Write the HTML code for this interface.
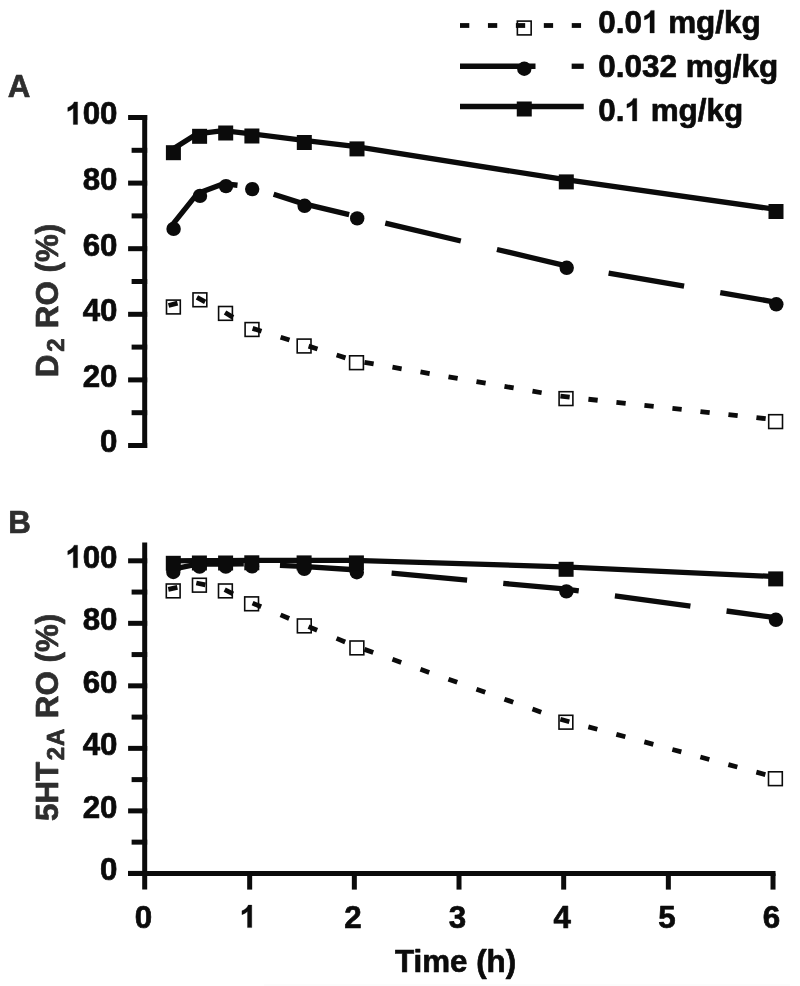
<!DOCTYPE html>
<html><head><meta charset="utf-8"><title>chart</title>
<style>
html,body{margin:0;padding:0;background:#fff;}
svg{display:block;filter:grayscale(1);}
text{font-family:"Liberation Sans",sans-serif;font-weight:bold;stroke-width:0.7px;stroke-linejoin:round;}
</style></head><body>
<svg width="800" height="986" viewBox="0 0 800 986">
<rect width="800" height="986" fill="#fff"/>
<rect x="264" y="984" width="526" height="2" fill="#fcfcfc"/>
<line x1="144.70" y1="115.00" x2="144.70" y2="448.00" stroke="#0b0b0b" stroke-width="5.0" stroke-linecap="butt"/>
<line x1="128.10" y1="445.50" x2="147.20" y2="445.50" stroke="#0b0b0b" stroke-width="5.0" stroke-linecap="butt"/>
<text transform="translate(100.09,452.40) scale(1,1.0)" text-anchor="start" font-size="31.3" fill="#0b0b0b" stroke="#0b0b0b">0</text>
<line x1="131.60" y1="412.70" x2="147.20" y2="412.70" stroke="#0b0b0b" stroke-width="5.0" stroke-linecap="butt"/>
<line x1="128.10" y1="379.90" x2="147.20" y2="379.90" stroke="#0b0b0b" stroke-width="5.0" stroke-linecap="butt"/>
<text transform="translate(82.68,386.80) scale(1,1.0)" text-anchor="start" font-size="31.3" fill="#0b0b0b" stroke="#0b0b0b">20</text>
<line x1="131.60" y1="347.10" x2="147.20" y2="347.10" stroke="#0b0b0b" stroke-width="5.0" stroke-linecap="butt"/>
<line x1="128.10" y1="314.30" x2="147.20" y2="314.30" stroke="#0b0b0b" stroke-width="5.0" stroke-linecap="butt"/>
<text transform="translate(82.68,321.20) scale(1,1.0)" text-anchor="start" font-size="31.3" fill="#0b0b0b" stroke="#0b0b0b">40</text>
<line x1="131.60" y1="281.50" x2="147.20" y2="281.50" stroke="#0b0b0b" stroke-width="5.0" stroke-linecap="butt"/>
<line x1="128.10" y1="248.70" x2="147.20" y2="248.70" stroke="#0b0b0b" stroke-width="5.0" stroke-linecap="butt"/>
<text transform="translate(82.68,255.60) scale(1,1.0)" text-anchor="start" font-size="31.3" fill="#0b0b0b" stroke="#0b0b0b">60</text>
<line x1="131.60" y1="215.90" x2="147.20" y2="215.90" stroke="#0b0b0b" stroke-width="5.0" stroke-linecap="butt"/>
<line x1="128.10" y1="183.10" x2="147.20" y2="183.10" stroke="#0b0b0b" stroke-width="5.0" stroke-linecap="butt"/>
<text transform="translate(82.68,190.00) scale(1,1.0)" text-anchor="start" font-size="31.3" fill="#0b0b0b" stroke="#0b0b0b">80</text>
<line x1="131.60" y1="150.30" x2="147.20" y2="150.30" stroke="#0b0b0b" stroke-width="5.0" stroke-linecap="butt"/>
<line x1="128.10" y1="117.50" x2="147.20" y2="117.50" stroke="#0b0b0b" stroke-width="5.0" stroke-linecap="butt"/>
<path transform="translate(65.28,124.40) scale(0.01528,-0.01528)" d="M806 0H525V1059Q371 915 162 846V1101Q272 1137 401 1237.5Q530 1338 578 1472H806Z" fill="#0b0b0b" stroke="#0b0b0b" stroke-width="19.6" stroke-linejoin="round"/>
<text transform="translate(82.68,124.40) scale(1,1.0)" text-anchor="start" font-size="31.3" fill="#0b0b0b" stroke="#0b0b0b">00</text>
<line x1="144.70" y1="542.60" x2="144.70" y2="889.60" stroke="#0b0b0b" stroke-width="5.0" stroke-linecap="butt"/>
<line x1="128.10" y1="873.40" x2="147.20" y2="873.40" stroke="#0b0b0b" stroke-width="5.0" stroke-linecap="butt"/>
<text transform="translate(100.09,880.30) scale(1,1.0)" text-anchor="start" font-size="31.3" fill="#0b0b0b" stroke="#0b0b0b">0</text>
<line x1="131.60" y1="842.14" x2="147.20" y2="842.14" stroke="#0b0b0b" stroke-width="5.0" stroke-linecap="butt"/>
<line x1="128.10" y1="810.88" x2="147.20" y2="810.88" stroke="#0b0b0b" stroke-width="5.0" stroke-linecap="butt"/>
<text transform="translate(82.68,817.78) scale(1,1.0)" text-anchor="start" font-size="31.3" fill="#0b0b0b" stroke="#0b0b0b">20</text>
<line x1="131.60" y1="779.62" x2="147.20" y2="779.62" stroke="#0b0b0b" stroke-width="5.0" stroke-linecap="butt"/>
<line x1="128.10" y1="748.36" x2="147.20" y2="748.36" stroke="#0b0b0b" stroke-width="5.0" stroke-linecap="butt"/>
<text transform="translate(82.68,755.26) scale(1,1.0)" text-anchor="start" font-size="31.3" fill="#0b0b0b" stroke="#0b0b0b">40</text>
<line x1="131.60" y1="717.10" x2="147.20" y2="717.10" stroke="#0b0b0b" stroke-width="5.0" stroke-linecap="butt"/>
<line x1="128.10" y1="685.84" x2="147.20" y2="685.84" stroke="#0b0b0b" stroke-width="5.0" stroke-linecap="butt"/>
<text transform="translate(82.68,692.74) scale(1,1.0)" text-anchor="start" font-size="31.3" fill="#0b0b0b" stroke="#0b0b0b">60</text>
<line x1="131.60" y1="654.58" x2="147.20" y2="654.58" stroke="#0b0b0b" stroke-width="5.0" stroke-linecap="butt"/>
<line x1="128.10" y1="623.32" x2="147.20" y2="623.32" stroke="#0b0b0b" stroke-width="5.0" stroke-linecap="butt"/>
<text transform="translate(82.68,630.22) scale(1,1.0)" text-anchor="start" font-size="31.3" fill="#0b0b0b" stroke="#0b0b0b">80</text>
<line x1="131.60" y1="592.06" x2="147.20" y2="592.06" stroke="#0b0b0b" stroke-width="5.0" stroke-linecap="butt"/>
<line x1="128.10" y1="560.80" x2="147.20" y2="560.80" stroke="#0b0b0b" stroke-width="5.0" stroke-linecap="butt"/>
<path transform="translate(65.28,567.70) scale(0.01528,-0.01528)" d="M806 0H525V1059Q371 915 162 846V1101Q272 1137 401 1237.5Q530 1338 578 1472H806Z" fill="#0b0b0b" stroke="#0b0b0b" stroke-width="19.6" stroke-linejoin="round"/>
<text transform="translate(82.68,567.70) scale(1,1.0)" text-anchor="start" font-size="31.3" fill="#0b0b0b" stroke="#0b0b0b">00</text>
<line x1="128.10" y1="873.40" x2="775.52" y2="873.40" stroke="#0b0b0b" stroke-width="5.0" stroke-linecap="butt"/>
<text transform="translate(134.80,927.60) scale(1,1.0)" text-anchor="start" font-size="31.3" fill="#0b0b0b" stroke="#0b0b0b">0</text>
<line x1="249.67" y1="873.40" x2="249.67" y2="889.60" stroke="#0b0b0b" stroke-width="5.0" stroke-linecap="butt"/>
<path transform="translate(239.47,927.60) scale(0.01528,-0.01528)" d="M806 0H525V1059Q371 915 162 846V1101Q272 1137 401 1237.5Q530 1338 578 1472H806Z" fill="#0b0b0b" stroke="#0b0b0b" stroke-width="19.6" stroke-linejoin="round"/>
<line x1="354.34" y1="873.40" x2="354.34" y2="889.60" stroke="#0b0b0b" stroke-width="5.0" stroke-linecap="butt"/>
<text transform="translate(344.14,927.60) scale(1,1.0)" text-anchor="start" font-size="31.3" fill="#0b0b0b" stroke="#0b0b0b">2</text>
<line x1="459.01" y1="873.40" x2="459.01" y2="889.60" stroke="#0b0b0b" stroke-width="5.0" stroke-linecap="butt"/>
<text transform="translate(448.81,927.60) scale(1,1.0)" text-anchor="start" font-size="31.3" fill="#0b0b0b" stroke="#0b0b0b">3</text>
<line x1="563.68" y1="873.40" x2="563.68" y2="889.60" stroke="#0b0b0b" stroke-width="5.0" stroke-linecap="butt"/>
<text transform="translate(553.48,927.60) scale(1,1.0)" text-anchor="start" font-size="31.3" fill="#0b0b0b" stroke="#0b0b0b">4</text>
<line x1="668.35" y1="873.40" x2="668.35" y2="889.60" stroke="#0b0b0b" stroke-width="5.0" stroke-linecap="butt"/>
<text transform="translate(658.15,927.60) scale(1,1.0)" text-anchor="start" font-size="31.3" fill="#0b0b0b" stroke="#0b0b0b">5</text>
<line x1="773.02" y1="873.40" x2="773.02" y2="889.60" stroke="#0b0b0b" stroke-width="5.0" stroke-linecap="butt"/>
<text transform="translate(762.82,927.60) scale(1,1.0)" text-anchor="start" font-size="31.3" fill="#0b0b0b" stroke="#0b0b0b">6</text>
<text transform="translate(395.00,972.00) scale(1,1.0)" text-anchor="start" font-size="31.3" fill="#0b0b0b" stroke="#0b0b0b">Time (h)</text>
<text transform="translate(7.70,96.50) scale(1,1.0)" text-anchor="start" font-size="31.3" fill="#2e2e2e" stroke="#2e2e2e">A</text>
<text transform="translate(8.20,532.70) scale(1,1.0)" text-anchor="start" font-size="31.3" fill="#2e2e2e" stroke="#2e2e2e">B</text>
<text transform="translate(57.90,377.30) rotate(-90) scale(1,1.0)" font-size="31.3" fill="#2e2e2e" stroke="#2e2e2e">D<tspan font-size="24" dy="6.5" dx="3">2</tspan><tspan dy="-6.5" dx="1.5"> RO (%)</tspan></text>
<text transform="translate(57.90,821.00) rotate(-90) scale(1,1.0)" font-size="31.3" fill="#2e2e2e" stroke="#2e2e2e">5HT<tspan font-size="24" dy="6.5" dx="1.7">2</tspan><tspan font-size="24" dx="0.8">A</tspan><tspan dy="-6.5" dx="1.8"> RO (%)</tspan></text>
<rect x="166.50" y="300.10" width="13.8" height="13.8" fill="#fff" stroke="#0b0b0b" stroke-width="1.6"/>
<rect x="193.00" y="292.90" width="13.8" height="13.8" fill="#fff" stroke="#0b0b0b" stroke-width="1.6"/>
<rect x="218.60" y="306.50" width="13.8" height="13.8" fill="#fff" stroke="#0b0b0b" stroke-width="1.6"/>
<rect x="245.10" y="322.60" width="13.8" height="13.8" fill="#fff" stroke="#0b0b0b" stroke-width="1.6"/>
<rect x="297.20" y="339.10" width="13.8" height="13.8" fill="#fff" stroke="#0b0b0b" stroke-width="1.6"/>
<rect x="349.60" y="355.80" width="13.8" height="13.8" fill="#fff" stroke="#0b0b0b" stroke-width="1.6"/>
<rect x="559.10" y="391.70" width="13.8" height="13.8" fill="#fff" stroke="#0b0b0b" stroke-width="1.6"/>
<rect x="768.70" y="414.70" width="13.8" height="13.8" fill="#fff" stroke="#0b0b0b" stroke-width="1.6"/>
<polyline points="168.56,305.54 177.54,303.10" fill="none" stroke="#0b0b0b" stroke-width="4.8" stroke-linejoin="miter"/>
<polyline points="196.94,297.46 205.16,301.82" fill="none" stroke="#0b0b0b" stroke-width="4.8" stroke-linejoin="miter"/>
<polyline points="225.08,312.56 233.02,317.39" fill="none" stroke="#0b0b0b" stroke-width="4.8" stroke-linejoin="miter"/>
<polyline points="252.62,328.39 261.48,331.20" fill="none" stroke="#0b0b0b" stroke-width="4.8" stroke-linejoin="miter"/>
<polyline points="280.62,337.25 289.48,340.06" fill="none" stroke="#0b0b0b" stroke-width="4.8" stroke-linejoin="miter"/>
<polyline points="308.62,346.14 317.48,348.96" fill="none" stroke="#0b0b0b" stroke-width="4.8" stroke-linejoin="miter"/>
<polyline points="336.62,355.06 345.48,357.88" fill="none" stroke="#0b0b0b" stroke-width="4.8" stroke-linejoin="miter"/>
<polyline points="364.47,362.39 373.63,363.96" fill="none" stroke="#0b0b0b" stroke-width="4.8" stroke-linejoin="miter"/>
<polyline points="392.47,367.19 401.63,368.76" fill="none" stroke="#0b0b0b" stroke-width="4.8" stroke-linejoin="miter"/>
<polyline points="420.47,371.99 429.63,373.56" fill="none" stroke="#0b0b0b" stroke-width="4.8" stroke-linejoin="miter"/>
<polyline points="448.47,376.79 457.63,378.36" fill="none" stroke="#0b0b0b" stroke-width="4.8" stroke-linejoin="miter"/>
<polyline points="476.47,381.59 485.63,383.16" fill="none" stroke="#0b0b0b" stroke-width="4.8" stroke-linejoin="miter"/>
<polyline points="504.47,386.38 513.63,387.95" fill="none" stroke="#0b0b0b" stroke-width="4.8" stroke-linejoin="miter"/>
<polyline points="532.47,391.18 541.63,392.75" fill="none" stroke="#0b0b0b" stroke-width="4.8" stroke-linejoin="miter"/>
<polyline points="560.43,396.16 569.67,397.18" fill="none" stroke="#0b0b0b" stroke-width="4.8" stroke-linejoin="miter"/>
<polyline points="588.43,399.24 597.67,400.25" fill="none" stroke="#0b0b0b" stroke-width="4.8" stroke-linejoin="miter"/>
<polyline points="616.43,402.31 625.67,403.32" fill="none" stroke="#0b0b0b" stroke-width="4.8" stroke-linejoin="miter"/>
<polyline points="644.43,405.38 653.67,406.39" fill="none" stroke="#0b0b0b" stroke-width="4.8" stroke-linejoin="miter"/>
<polyline points="672.43,408.45 681.67,409.47" fill="none" stroke="#0b0b0b" stroke-width="4.8" stroke-linejoin="miter"/>
<polyline points="700.43,411.53 709.67,412.54" fill="none" stroke="#0b0b0b" stroke-width="4.8" stroke-linejoin="miter"/>
<polyline points="728.43,414.60 737.67,415.61" fill="none" stroke="#0b0b0b" stroke-width="4.8" stroke-linejoin="miter"/>
<polyline points="756.43,417.67 765.67,418.68" fill="none" stroke="#0b0b0b" stroke-width="4.8" stroke-linejoin="miter"/>
<polyline points="169.10,228.95 197.50,193.45 223.50,183.65 237.50,185.25" fill="none" stroke="#0b0b0b" stroke-width="5.3" stroke-linejoin="miter"/>
<polyline points="273.65,194.28 302.10,203.35 349.15,214.62" fill="none" stroke="#0b0b0b" stroke-width="5.3" stroke-linejoin="miter"/>
<polyline points="385.30,223.17 460.80,240.97" fill="none" stroke="#0b0b0b" stroke-width="5.3" stroke-linejoin="miter"/>
<polyline points="496.95,249.49 564.20,265.35 572.45,266.79" fill="none" stroke="#0b0b0b" stroke-width="5.3" stroke-linejoin="miter"/>
<polyline points="608.60,273.08 684.10,286.23" fill="none" stroke="#0b0b0b" stroke-width="5.3" stroke-linejoin="miter"/>
<polyline points="720.25,292.52 776.30,302.29" fill="none" stroke="#0b0b0b" stroke-width="5.3" stroke-linejoin="miter"/>
<circle cx="173.60" cy="228.90" r="7.2" fill="#0b0b0b"/>
<circle cx="200.00" cy="195.90" r="7.2" fill="#0b0b0b"/>
<circle cx="226.00" cy="186.10" r="7.2" fill="#0b0b0b"/>
<circle cx="252.20" cy="189.10" r="7.2" fill="#0b0b0b"/>
<circle cx="304.60" cy="205.80" r="7.2" fill="#0b0b0b"/>
<circle cx="357.20" cy="218.40" r="7.2" fill="#0b0b0b"/>
<circle cx="566.70" cy="267.80" r="7.2" fill="#0b0b0b"/>
<circle cx="776.30" cy="304.30" r="7.2" fill="#0b0b0b"/>
<polyline points="170.90,150.25 197.10,133.85 223.20,130.55 249.40,133.55 301.80,140.05 354.50,146.45 563.80,179.45 773.50,209.05" fill="none" stroke="#0b0b0b" stroke-width="5.3" stroke-linejoin="miter" stroke-linecap="square"/>
<rect x="165.90" y="145.20" width="15.0" height="15.0" fill="#0b0b0b"/>
<rect x="192.10" y="128.80" width="15.0" height="15.0" fill="#0b0b0b"/>
<rect x="218.20" y="125.50" width="15.0" height="15.0" fill="#0b0b0b"/>
<rect x="244.40" y="128.50" width="15.0" height="15.0" fill="#0b0b0b"/>
<rect x="296.80" y="135.00" width="15.0" height="15.0" fill="#0b0b0b"/>
<rect x="349.50" y="141.40" width="15.0" height="15.0" fill="#0b0b0b"/>
<rect x="558.80" y="174.40" width="15.0" height="15.0" fill="#0b0b0b"/>
<rect x="768.50" y="204.00" width="15.0" height="15.0" fill="#0b0b0b"/>
<rect x="166.30" y="584.00" width="13.8" height="13.8" fill="#fff" stroke="#0b0b0b" stroke-width="1.6"/>
<rect x="192.50" y="578.30" width="13.8" height="13.8" fill="#fff" stroke="#0b0b0b" stroke-width="1.6"/>
<rect x="218.50" y="584.00" width="13.8" height="13.8" fill="#fff" stroke="#0b0b0b" stroke-width="1.6"/>
<rect x="244.70" y="596.90" width="13.8" height="13.8" fill="#fff" stroke="#0b0b0b" stroke-width="1.6"/>
<rect x="297.40" y="619.00" width="13.8" height="13.8" fill="#fff" stroke="#0b0b0b" stroke-width="1.6"/>
<rect x="350.00" y="641.00" width="13.8" height="13.8" fill="#fff" stroke="#0b0b0b" stroke-width="1.6"/>
<rect x="559.00" y="715.30" width="13.8" height="13.8" fill="#fff" stroke="#0b0b0b" stroke-width="1.6"/>
<rect x="768.50" y="771.80" width="13.8" height="13.8" fill="#fff" stroke="#0b0b0b" stroke-width="1.6"/>
<polyline points="168.31,589.32 177.39,587.34" fill="none" stroke="#0b0b0b" stroke-width="4.8" stroke-linejoin="miter"/>
<polyline points="196.31,582.97 205.39,584.96" fill="none" stroke="#0b0b0b" stroke-width="4.8" stroke-linejoin="miter"/>
<polyline points="224.68,589.68 233.02,593.78" fill="none" stroke="#0b0b0b" stroke-width="4.8" stroke-linejoin="miter"/>
<polyline points="252.56,603.15 261.14,606.75" fill="none" stroke="#0b0b0b" stroke-width="4.8" stroke-linejoin="miter"/>
<polyline points="280.56,614.89 289.14,618.49" fill="none" stroke="#0b0b0b" stroke-width="4.8" stroke-linejoin="miter"/>
<polyline points="308.56,626.63 317.14,630.22" fill="none" stroke="#0b0b0b" stroke-width="4.8" stroke-linejoin="miter"/>
<polyline points="336.56,638.34 345.14,641.93" fill="none" stroke="#0b0b0b" stroke-width="4.8" stroke-linejoin="miter"/>
<polyline points="364.47,649.38 373.23,652.49" fill="none" stroke="#0b0b0b" stroke-width="4.8" stroke-linejoin="miter"/>
<polyline points="392.47,659.33 401.23,662.45" fill="none" stroke="#0b0b0b" stroke-width="4.8" stroke-linejoin="miter"/>
<polyline points="420.47,669.29 429.23,672.40" fill="none" stroke="#0b0b0b" stroke-width="4.8" stroke-linejoin="miter"/>
<polyline points="448.47,679.24 457.23,682.36" fill="none" stroke="#0b0b0b" stroke-width="4.8" stroke-linejoin="miter"/>
<polyline points="476.47,689.20 485.23,692.31" fill="none" stroke="#0b0b0b" stroke-width="4.8" stroke-linejoin="miter"/>
<polyline points="504.47,699.15 513.23,702.26" fill="none" stroke="#0b0b0b" stroke-width="4.8" stroke-linejoin="miter"/>
<polyline points="532.47,709.10 541.23,712.22" fill="none" stroke="#0b0b0b" stroke-width="4.8" stroke-linejoin="miter"/>
<polyline points="560.36,719.28 569.34,721.70" fill="none" stroke="#0b0b0b" stroke-width="4.8" stroke-linejoin="miter"/>
<polyline points="588.36,726.83 597.34,729.25" fill="none" stroke="#0b0b0b" stroke-width="4.8" stroke-linejoin="miter"/>
<polyline points="616.36,734.38 625.34,736.80" fill="none" stroke="#0b0b0b" stroke-width="4.8" stroke-linejoin="miter"/>
<polyline points="644.36,741.93 653.34,744.36" fill="none" stroke="#0b0b0b" stroke-width="4.8" stroke-linejoin="miter"/>
<polyline points="672.36,749.49 681.34,751.91" fill="none" stroke="#0b0b0b" stroke-width="4.8" stroke-linejoin="miter"/>
<polyline points="700.36,757.04 709.34,759.46" fill="none" stroke="#0b0b0b" stroke-width="4.8" stroke-linejoin="miter"/>
<polyline points="728.36,764.59 737.34,767.01" fill="none" stroke="#0b0b0b" stroke-width="4.8" stroke-linejoin="miter"/>
<polyline points="756.36,772.14 765.34,774.56" fill="none" stroke="#0b0b0b" stroke-width="4.8" stroke-linejoin="miter"/>
<polyline points="168.30,570.06 197.10,564.15 223.30,564.15 243.80,563.92" fill="none" stroke="#0b0b0b" stroke-width="5.3" stroke-linejoin="miter"/>
<polyline points="279.95,565.31 301.80,566.35 354.30,569.75 355.45,569.86" fill="none" stroke="#0b0b0b" stroke-width="5.3" stroke-linejoin="miter"/>
<polyline points="391.60,573.17 467.10,580.08" fill="none" stroke="#0b0b0b" stroke-width="5.3" stroke-linejoin="miter"/>
<polyline points="503.25,583.39 563.90,588.95 578.75,590.96" fill="none" stroke="#0b0b0b" stroke-width="5.3" stroke-linejoin="miter"/>
<polyline points="614.90,595.86 690.40,606.10" fill="none" stroke="#0b0b0b" stroke-width="5.3" stroke-linejoin="miter"/>
<polyline points="726.55,611.00 775.90,617.69" fill="none" stroke="#0b0b0b" stroke-width="5.3" stroke-linejoin="miter"/>
<circle cx="173.30" cy="572.00" r="7.2" fill="#0b0b0b"/>
<circle cx="199.60" cy="566.60" r="7.2" fill="#0b0b0b"/>
<circle cx="225.80" cy="566.60" r="7.2" fill="#0b0b0b"/>
<circle cx="252.00" cy="566.30" r="7.2" fill="#0b0b0b"/>
<circle cx="304.30" cy="568.80" r="7.2" fill="#0b0b0b"/>
<circle cx="356.80" cy="572.20" r="7.2" fill="#0b0b0b"/>
<circle cx="566.40" cy="591.40" r="7.2" fill="#0b0b0b"/>
<circle cx="775.90" cy="619.80" r="7.2" fill="#0b0b0b"/>
<polyline points="170.80,560.85 196.90,560.55 223.10,560.55 249.30,560.35 301.60,560.45 353.90,560.45 563.60,566.85 773.20,576.45" fill="none" stroke="#0b0b0b" stroke-width="5.3" stroke-linejoin="miter" stroke-linecap="square"/>
<rect x="165.80" y="555.80" width="15.0" height="15.0" fill="#0b0b0b"/>
<rect x="191.90" y="555.50" width="15.0" height="15.0" fill="#0b0b0b"/>
<rect x="218.10" y="555.50" width="15.0" height="15.0" fill="#0b0b0b"/>
<rect x="244.30" y="555.30" width="15.0" height="15.0" fill="#0b0b0b"/>
<rect x="296.60" y="555.40" width="15.0" height="15.0" fill="#0b0b0b"/>
<rect x="348.90" y="555.40" width="15.0" height="15.0" fill="#0b0b0b"/>
<rect x="558.60" y="561.80" width="15.0" height="15.0" fill="#0b0b0b"/>
<rect x="768.20" y="571.40" width="15.0" height="15.0" fill="#0b0b0b"/>
<rect x="517.37" y="21.10" width="13.8" height="13.8" fill="#fff" stroke="#0b0b0b" stroke-width="1.6"/>
<polyline points="460.00,25.50 469.30,25.50" fill="none" stroke="#0b0b0b" stroke-width="4.8" stroke-linejoin="miter"/>
<polyline points="487.94,25.50 497.24,25.50" fill="none" stroke="#0b0b0b" stroke-width="4.8" stroke-linejoin="miter"/>
<polyline points="515.88,25.50 525.18,25.50" fill="none" stroke="#0b0b0b" stroke-width="4.8" stroke-linejoin="miter"/>
<polyline points="543.82,25.50 553.12,25.50" fill="none" stroke="#0b0b0b" stroke-width="4.8" stroke-linejoin="miter"/>
<polyline points="571.76,25.50 581.06,25.50" fill="none" stroke="#0b0b0b" stroke-width="4.8" stroke-linejoin="miter"/>
<polyline points="460.00,66.25 535.50,66.25" fill="none" stroke="#0b0b0b" stroke-width="5.3" stroke-linejoin="miter"/>
<polyline points="571.65,66.25 583.75,66.25" fill="none" stroke="#0b0b0b" stroke-width="5.3" stroke-linejoin="miter"/>
<circle cx="524.27" cy="68.75" r="7.2" fill="#0b0b0b"/>
<line x1="460.00" y1="106.50" x2="583.75" y2="106.50" stroke="#0b0b0b" stroke-width="5.3" stroke-linecap="butt"/>
<rect x="516.77" y="101.50" width="15.0" height="15.0" fill="#0b0b0b"/>
<text transform="translate(598.20,33.00) scale(1,1.0)" text-anchor="start" font-size="31.45" fill="#0b0b0b" stroke="#0b0b0b">0.0</text>
<path transform="translate(641.92,33.00) scale(0.01536,-0.01536)" d="M806 0H525V1059Q371 915 162 846V1101Q272 1137 401 1237.5Q530 1338 578 1472H806Z" fill="#0b0b0b" stroke="#0b0b0b" stroke-width="19.5" stroke-linejoin="round"/>
<text transform="translate(668.15,33.00) scale(1,1.0)" text-anchor="start" font-size="31.45" fill="#0b0b0b" stroke="#0b0b0b">mg/kg</text>
<text transform="translate(598.20,77.00) scale(1,1.0)" text-anchor="start" font-size="31.45" fill="#0b0b0b" stroke="#0b0b0b">0.032</text>
<text transform="translate(685.64,77.00) scale(1,1.0)" text-anchor="start" font-size="31.45" fill="#0b0b0b" stroke="#0b0b0b">mg/kg</text>
<text transform="translate(598.20,121.00) scale(1,1.0)" text-anchor="start" font-size="31.45" fill="#0b0b0b" stroke="#0b0b0b">0.</text>
<path transform="translate(624.43,121.00) scale(0.01536,-0.01536)" d="M806 0H525V1059Q371 915 162 846V1101Q272 1137 401 1237.5Q530 1338 578 1472H806Z" fill="#0b0b0b" stroke="#0b0b0b" stroke-width="19.5" stroke-linejoin="round"/>
<text transform="translate(650.66,121.00) scale(1,1.0)" text-anchor="start" font-size="31.45" fill="#0b0b0b" stroke="#0b0b0b">mg/kg</text>
</svg>
</body></html>
